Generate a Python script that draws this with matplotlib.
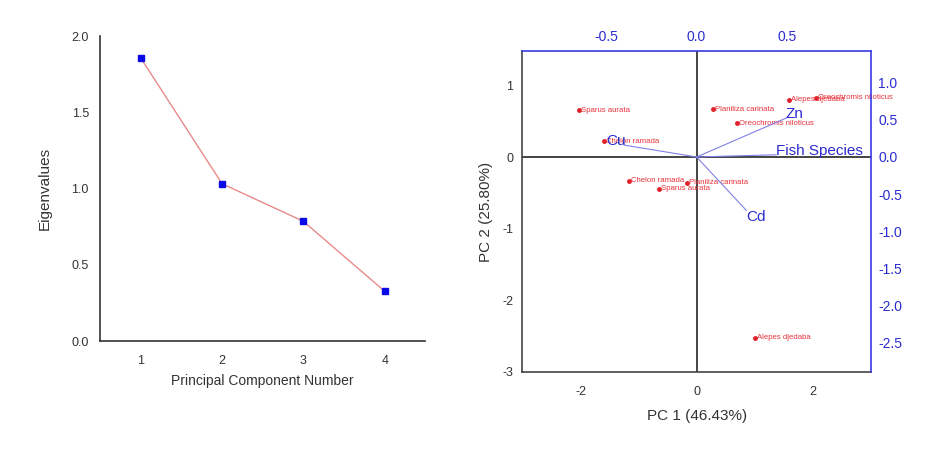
import numpy as np
import matplotlib
matplotlib.use('Agg')
import matplotlib.pyplot as plt

plt.rcParams['font.family'] = ['Liberation Sans', 'DejaVu Sans']
plt.rcParams['axes.unicode_minus'] = False

# scree data
components = [1, 2, 3, 4]
eigenvalues = [1.857, 1.032, 0.785, 0.326]

# PCA scores (fish samples)
species = ['Sparus aurata', 'Chelon ramada', 'Chelon ramada', 'Planiliza carinata',
           'Sparus aurata', 'Planiliza carinata', 'Oreochromis niloticus',
           'Alepes djedaba', 'Oreochromis niloticus', 'Alepes djedaba']
pc1 = [-2.03, -1.60, -1.16, -0.17, -0.65, 0.29, 0.70, 1.60, 2.06, 1.01]
pc2 = [0.65, 0.22, -0.33, -0.36, -0.44, 0.67, 0.47, 0.80, 0.83, -2.52]

# loadings (top / right axes)
variables = ['Cu', 'Zn', 'Fish Species', 'Cd']
load1 = [-0.40, 0.51, 0.44, 0.275]
load2 = [0.16, 0.54, 0.03, -0.72]

BLUE = '#2b2bd0'
DARK = '#333333'

fig = plt.figure(figsize=(9.35, 4.49), dpi=100)

# ---------- scree plot ----------
ax = fig.add_axes([0.107, 0.2405, 0.348, 0.679])
ax.plot(components, eigenvalues, color='#e88a8a', lw=1, zorder=1)
ax.plot(components, eigenvalues, 's', color='#0a0ae8', ms=5, zorder=2)
ax.set_xlim(0.5, 4.5)
ax.set_ylim(0, 2.0)
ax.set_xticks(components)
ax.set_yticks([0.0, 0.5, 1.0, 1.5, 2.0])
ax.set_yticklabels(['0.0', '0.5', '1.0', '1.5', '2.0'])
for s in ['top', 'right']:
    ax.spines[s].set_visible(False)
for s in ['left', 'bottom']:
    ax.spines[s].set_color(DARK)
    ax.spines[s].set_linewidth(1.2)
ax.tick_params(axis='both', length=0, labelsize=9, colors=DARK)
ax.tick_params(axis='y', pad=8)
ax.tick_params(axis='x', pad=10)
ax.set_xlabel('Principal Component Number', fontsize=10, color=DARK, labelpad=5)
ax.set_ylabel('Eigenvalues', fontsize=11, color=DARK, labelpad=14)

# ---------- biplot ----------
pos = [0.558, 0.1715, 0.374, 0.715]
bx = fig.add_axes(pos)
bx.set_xlim(-3.02, 3.02)
bx.set_ylim(-3.0, 1.48)
bx.axhline(0, color='#444444', lw=1.4, zorder=1)
bx.axvline(0, color='#444444', lw=1.4, zorder=1)
bx.plot(pc1, pc2, 'o', color='#e0202a', ms=2.5, zorder=3)
for name, x, y in zip(species, pc1, pc2):
    bx.annotate(name, (x, y), xytext=(1.5, 0), textcoords='offset points',
                fontsize=5.6, color='#e8303a', va='center', ha='left', zorder=3)
bx.set_xticks([-2, 0, 2])
bx.set_yticks([-3, -2, -1, 0, 1])
for s in ['top', 'right']:
    bx.spines[s].set_visible(False)
for s in ['left', 'bottom']:
    bx.spines[s].set_color('#444444')
    bx.spines[s].set_linewidth(1.2)
bx.tick_params(axis='both', length=0, labelsize=9, colors=DARK)
bx.tick_params(axis='y', pad=6)
bx.tick_params(axis='x', pad=10)
bx.set_xlabel('PC 1 (46.43%)', fontsize=11, color=DARK, labelpad=8)
bx.set_ylabel('PC 2 (25.80%)', fontsize=11, color=DARK, labelpad=7)

# loadings axes on top/right
lx = fig.add_axes(pos, frameon=True, facecolor='none')
lx.set_xlim(-0.967, 0.967)
lx.set_ylim(-2.90, 1.43)
lx.xaxis.set_ticks_position('top')
lx.xaxis.set_label_position('top')
lx.yaxis.set_ticks_position('right')
lx.yaxis.set_label_position('right')
for s in ['left', 'bottom']:
    lx.spines[s].set_visible(False)
for s in ['top', 'right']:
    lx.spines[s].set_color('#3a3ae0')
    lx.spines[s].set_linewidth(1.2)
lx.set_xticks([-0.5, 0.0, 0.5])
lx.set_yticks([-2.5, -2.0, -1.5, -1.0, -0.5, 0.0, 0.5, 1.0])
lx.tick_params(axis='both', length=0, labelsize=10, colors=BLUE)
lx.tick_params(axis='x', pad=5)
lx.tick_params(axis='y', pad=5)

label_style = {
    'Cu': dict(xytext=(1, 3), ha='right', va='center', fontsize=11),
    'Zn': dict(xytext=(4, 2), ha='center', va='center', fontsize=11),
    'Fish Species': dict(xytext=(0, 2.5), ha='left', va='center', fontsize=11),
    'Cd': dict(xytext=(0, -5), ha='left', va='center', fontsize=11),
}
for name, x, y in zip(variables, load1, load2):
    lx.plot([0, x], [0, y], color='#8080e6', lw=0.8, zorder=2)
    st = label_style[name]
    lx.annotate(name, (x, y), textcoords='offset points', color=BLUE,
                xytext=st['xytext'], ha=st['ha'], va=st['va'],
                fontsize=st['fontsize'], zorder=4)

fig.savefig('out.png', dpi=100, facecolor='white')
